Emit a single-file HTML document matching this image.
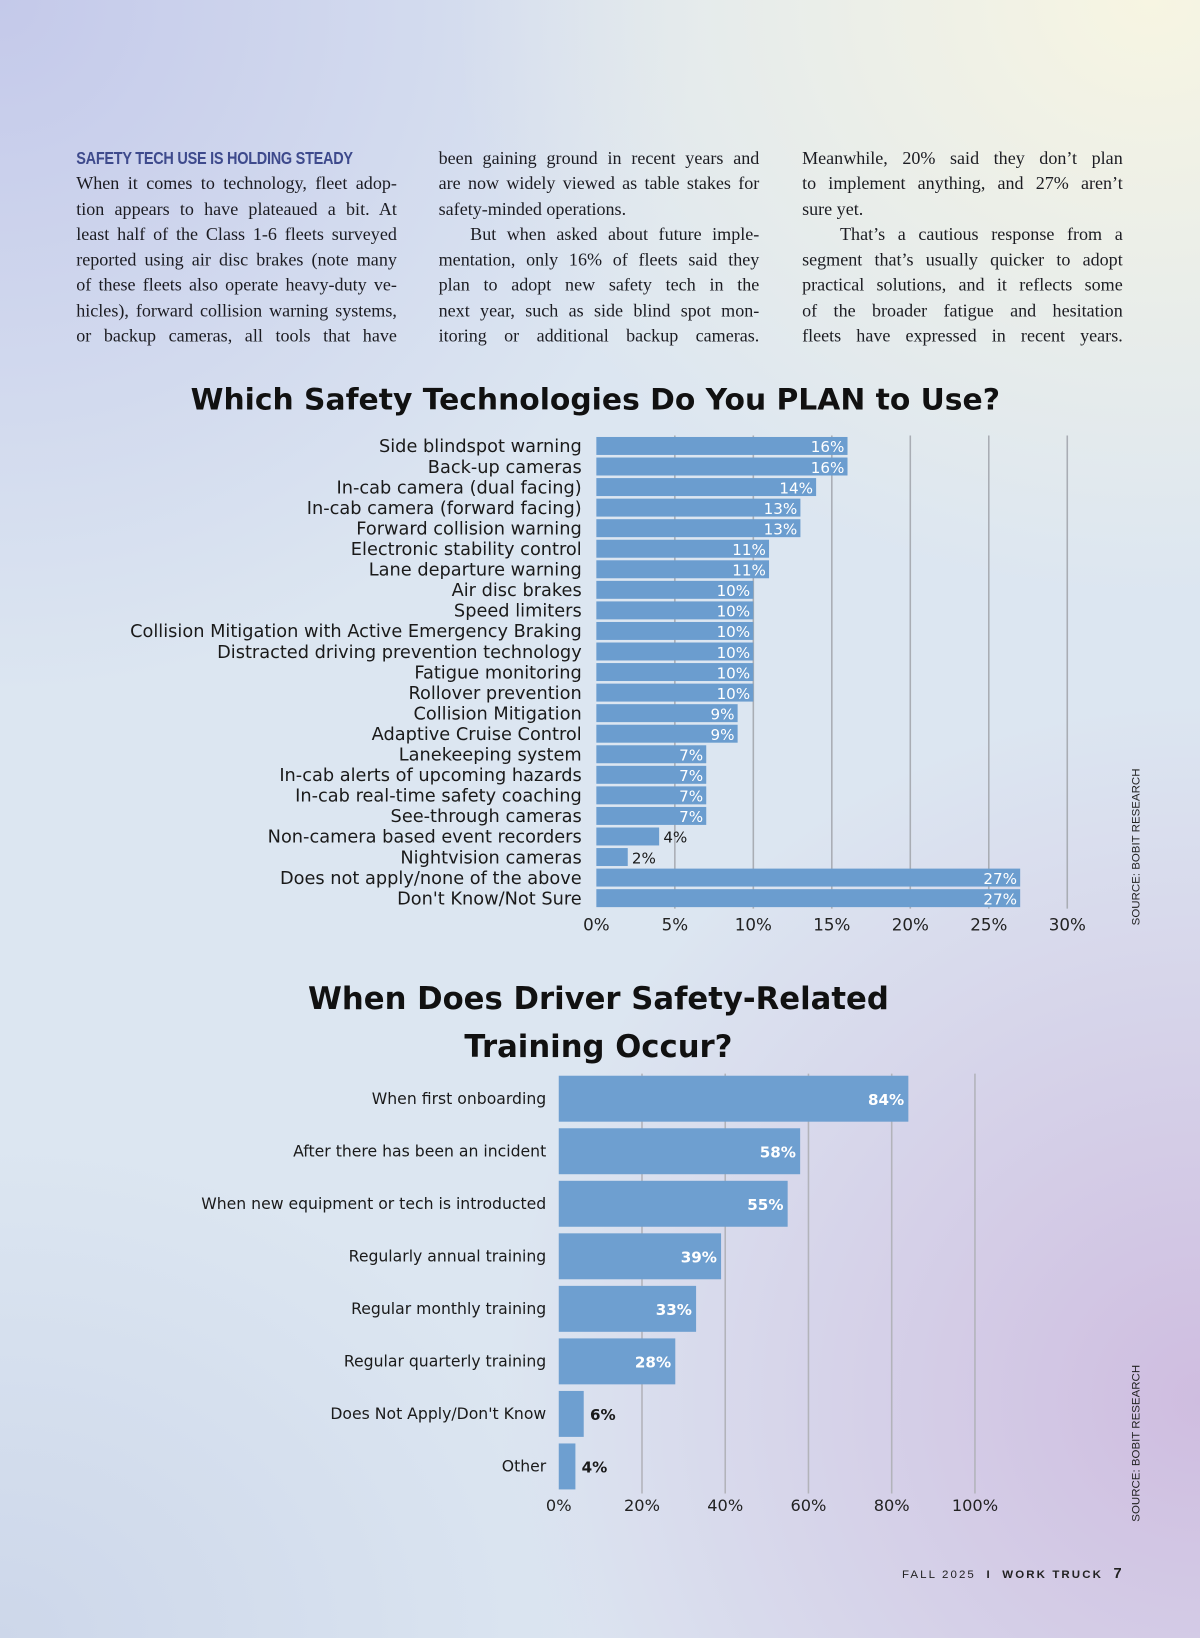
<!DOCTYPE html>
<html><head><meta charset="utf-8">
<style>
html,body{margin:0;padding:0;}
body{width:1200px;height:1638px;overflow:hidden;position:relative;
background:
radial-gradient(ellipse 700px 600px at 1150px 0px,#f7f5e2 0%,rgba(247,245,226,0) 100%),
radial-gradient(ellipse 700px 700px at 0px 0px,#c4c9ea 0%,rgba(196,201,234,0) 100%),
radial-gradient(ellipse 700px 700px at 1200px 1400px,#cfbde0 0%,rgba(207,189,224,0) 100%),
radial-gradient(ellipse 600px 500px at 0px 1638px,#cdd7ea 0%,rgba(205,215,234,0) 100%),
#dce6f1;}
#page{position:absolute;left:0;top:0;width:1149px;height:1568px;transform:scale(1.0444);transform-origin:0 0;}
.col{position:absolute;top:140px;width:307px;font-family:"Liberation Serif",serif;font-size:17.3px;color:#1c1c22;}
.ln{height:24.3px;line-height:24.3px;white-space:nowrap;text-align:justify;text-align-last:justify;}
.ln.l{text-align-last:left;}
.hd{font-family:"Liberation Sans Narrow","Liberation Sans",sans-serif;font-weight:bold;color:#3e4a8c;font-size:16.5px;letter-spacing:-0.3px;transform:scaleX(0.84);transform-origin:0 50%;}
.title{position:absolute;font-family:"DejaVu Sans","Liberation Sans",sans-serif;font-weight:bold;color:#111;text-align:center;}
.src{position:absolute;font-family:"Liberation Sans Narrow","Liberation Sans",sans-serif;font-size:11px;color:#222;transform:rotate(-90deg);transform-origin:center;white-space:nowrap;}
svg text{font-family:"DejaVu Sans","Liberation Sans",sans-serif;}
</style></head><body>
<div id="page">
<div class="col" style="left:73px">
<div class="ln l hd">SAFETY TECH USE IS HOLDING STEADY</div>
<div class="ln">When it comes to technology, fleet adop-</div>
<div class="ln">tion appears to have plateaued a bit. At</div>
<div class="ln">least half of the Class 1-6 fleets surveyed</div>
<div class="ln">reported using air disc brakes (note many</div>
<div class="ln">of these fleets also operate heavy-duty ve-</div>
<div class="ln">hicles), forward collision warning systems,</div>
<div class="ln">or backup cameras, all tools that have</div>
</div>
<div class="col" style="left:420px">
<div class="ln">been gaining ground in recent years and</div>
<div class="ln">are now widely viewed as table stakes for</div>
<div class="ln l">safety-minded operations.</div>
<div class="ln">&nbsp;&nbsp;&nbsp;But when asked about future imple-</div>
<div class="ln">mentation, only 16% of fleets said they</div>
<div class="ln">plan to adopt new safety tech in the</div>
<div class="ln">next year, such as side blind spot mon-</div>
<div class="ln">itoring or additional backup cameras.</div>
</div>
<div class="col" style="left:768px">
<div class="ln">Meanwhile, 20% said they don’t plan</div>
<div class="ln">to implement anything, and 27% aren’t</div>
<div class="ln l">sure yet.</div>
<div class="ln">&nbsp;&nbsp;&nbsp;That’s a cautious response from a</div>
<div class="ln">segment that’s usually quicker to adopt</div>
<div class="ln">practical solutions, and it reflects some</div>
<div class="ln">of the broader fatigue and hesitation</div>
<div class="ln">fleets have expressed in recent years.</div>
</div>

<div class="title" style="left:120px;width:900px;top:366px;font-size:28.5px;">Which Safety Technologies Do You PLAN to Use?</div>
<svg id="c1" style="position:absolute;left:0;top:0" width="1149" height="920"></svg>
<div class="src" style="left:1028px;top:820px;width:120px;text-align:center">SOURCE: BOBIT RESEARCH</div>

<div class="title" style="left:200px;width:746px;top:933px;font-size:29.4px;line-height:46px;">When Does Driver Safety-Related<br>Training Occur?</div>
<svg id="c2" style="position:absolute;left:0;top:1000px" width="1149" height="470"></svg>
<div class="src" style="left:1028px;top:1391px;width:120px;text-align:center">SOURCE: BOBIT RESEARCH</div>

<div style="position:absolute;right:73px;top:1498px;font-family:'Liberation Sans Narrow','Liberation Sans',sans-serif;font-size:11px;letter-spacing:2px;color:#222;">FALL 2025 &nbsp;<b>I &nbsp;WORK TRUCK</b> &nbsp;<b style="font-size:14px">7</b></div>
</div>
<script>
const cats1=["Side blindspot warning","Back-up cameras","In-cab camera (dual facing)","In-cab camera (forward facing)","Forward collision warning","Electronic stability control","Lane departure warning","Air disc brakes","Speed limiters","Collision Mitigation with Active Emergency Braking","Distracted driving prevention technology","Fatigue monitoring","Rollover prevention","Collision Mitigation","Adaptive Cruise Control","Lanekeeping system","In-cab alerts of upcoming hazards","In-cab real-time safety coaching","See-through cameras","Non-camera based event recorders","Nightvision cameras","Does not apply/none of the above","Don't Know/Not Sure"];
const vals1=[16,16,14,13,13,11,11,10,10,10,10,10,10,9,9,7,7,7,7,4,2,27,27];
const ticks1=[0,5,10,15,20,25,30];
const cats2=["When first onboarding","After there has been an incident","When new equipment or tech is introducted","Regularly annual training","Regular monthly training","Regular quarterly training","Does Not Apply/Don't Know","Other"];
const vals2=[84,58,55,39,33,28,6,4];
const ticks2=[0,20,40,60,80,100];
const NS="http://www.w3.org/2000/svg";
function mk(p,t,a,txt){const e=document.createElementNS(NS,t);for(const k in a)e.setAttribute(k,a[k]);if(txt!==undefined)e.textContent=txt;p.appendChild(e);return e;}
// chart 1
(function(){
const s=document.getElementById('c1');
const x=v=>571+v*15.03, y=i=>427+i*19.68;
for(const t of ticks1){if(t===0)continue;const g=mk(s,'line',{x1:x(t),x2:x(t),y1:417,y2:870,stroke:'#a9adb4','stroke-width':1.5});

}
cats1.forEach((c,i)=>{
const r=mk(s,'rect',{x:x(0),y:y(i)-8.6,width:x(vals1[i])-x(0),height:17.2,fill:'#6b9dcf'});


const l=mk(s,'text',{x:557,y:y(i)+6,'text-anchor':'end','font-size':17,fill:'#1a1a1a'},c);


const inside=vals1[i]>=5;
const v=mk(s,'text',{x:inside?x(vals1[i])-3:x(vals1[i])+4,y:y(i)+6,'text-anchor':inside?'end':'start','font-size':14.5,fill:inside?'#fff':'#1a1a1a'},vals1[i]+'%');


});
for(const t of ticks1){const e=mk(s,'text',{x:x(t),y:891,'text-anchor':'middle','font-size':16,fill:'#222'},t+'%');

}
})();
// chart 2
(function(){
const s=document.getElementById('c2');
const x=v=>535+v*3.985, y=i=>52+i*50.3;
for(const t of ticks2){if(t===0)continue;const g=mk(s,'line',{x1:x(t),x2:x(t),y1:28,y2:430,stroke:'#b2b3ba','stroke-width':1.5});

}
cats2.forEach((c,i)=>{
const r=mk(s,'rect',{x:x(0),y:y(i)-22,width:x(vals2[i])-x(0),height:44,fill:'#6e9fd0'});


const l=mk(s,'text',{x:523,y:y(i)+5,'text-anchor':'end','font-size':15,fill:'#1a1a1a'},c);


const inside=vals2[i]>=15;
const v=mk(s,'text',{x:inside?x(vals2[i])-4:x(vals2[i])+6,y:y(i)+6,'text-anchor':inside?'end':'start','font-size':14.5,fill:inside?'#fff':'#1a1a1a','font-weight':'bold'},vals2[i]+'%');


});
for(const t of ticks2){const e=mk(s,'text',{x:x(t),y:447,'text-anchor':'middle','font-size':15.5,fill:'#222'},t+'%');

}
})();
</script>
</body></html>
